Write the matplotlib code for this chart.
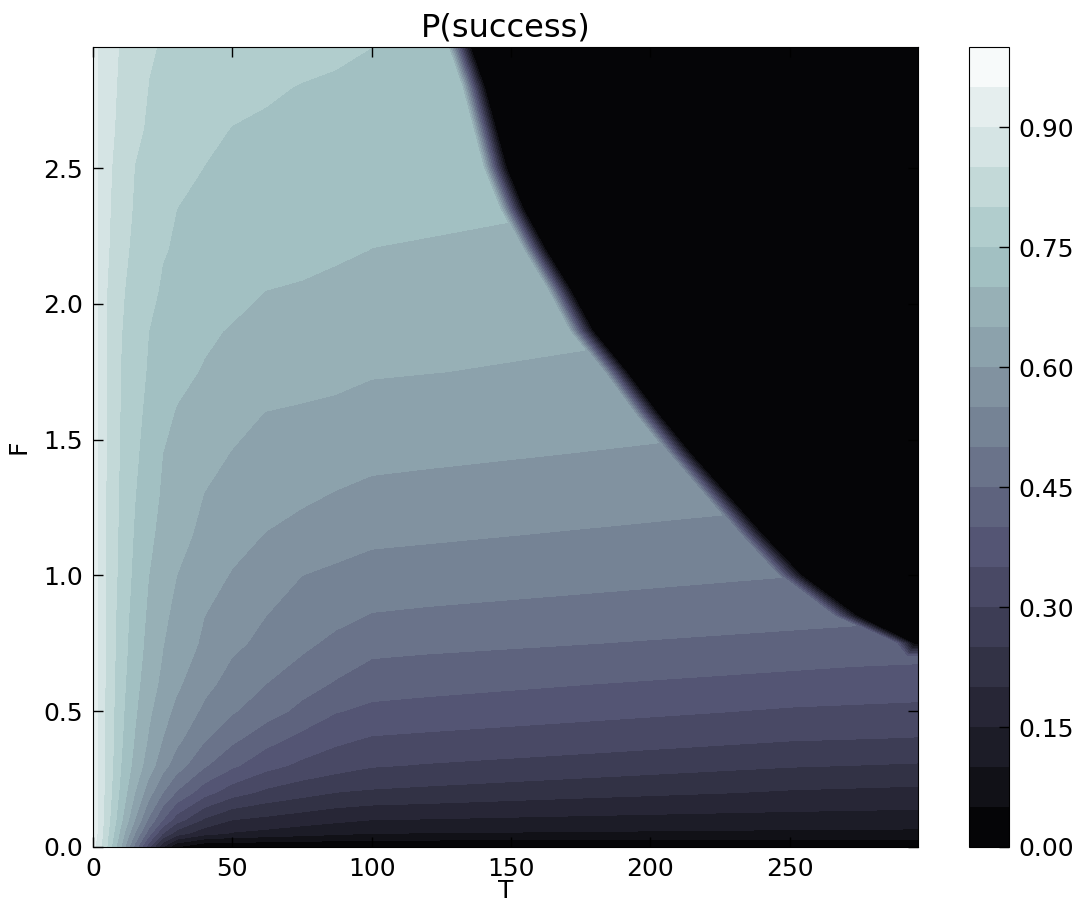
import numpy as np
import matplotlib
matplotlib.use('Agg')
import matplotlib.pyplot as plt

# ---------------------------------------------------------------------------
# Datos leidos de la figura
# filas: valores de F ; columnas fijas: T en la zona de T bajo
f_vals = [0.0, 0.05, 0.1, 0.2, 0.3, 0.4, 0.5, 0.6, 0.7, 0.75, 0.85,
          1.0, 1.15, 1.3, 1.45, 1.6, 1.75, 1.9, 2.05, 2.2, 2.35,
          2.5, 2.65, 2.8, 2.945]
t_cols = [0, 2, 5, 10, 15, 20, 25, 30, 40, 50, 62, 75, 87, 100, 120]
# dos nodos extra por fila: donde hay zona negra, t_a = ultimo T con valor
# y t_b = primer T a cero; debajo de ella son solo nodos intermedios
t_a = [250, 250, 250, 250, 250, 250, 250, 250, 285, 288, 266,
       246, 232, 219, 206, 194, 183, 171, 163, 154, 146,
       140, 136, 132, 127]
t_b = [280, 280, 280, 280, 280, 280, 280, 280, 292, 295, 275,
       255, 241, 228, 215, 203, 192, 180, 172, 163, 155,
       149, 145, 141, 136]
t_end = 296

# P(success) en t_cols + t_a + t_b + t_end, una fila por F
p_grid = [
    [0.92, 0.871, 0.80, 0.65, 0.483, 0.317, 0.15, 0.05, 0.0, 0.0, 0.0, 0.0, 0.0, 0.0, 0.0, 0.0, 0.0, 0.0],
    [0.94, 0.885, 0.813, 0.683, 0.55, 0.425, 0.30, 0.225, 0.169, 0.145, 0.134, 0.121, 0.110, 0.10, 0.098, 0.0886, 0.0873, 0.0866],
    [0.94, 0.886, 0.823, 0.711, 0.60, 0.492, 0.40, 0.325, 0.242, 0.20, 0.187, 0.173, 0.161, 0.15, 0.147, 0.1306, 0.1284, 0.1273],
    [0.94, 0.887, 0.831, 0.736, 0.65, 0.571, 0.50, 0.445, 0.369, 0.321, 0.288, 0.267, 0.249, 0.242, 0.235, 0.194, 0.1887, 0.1858],
    [0.94, 0.888, 0.836, 0.75, 0.683, 0.625, 0.57, 0.525, 0.456, 0.409, 0.367, 0.339, 0.322, 0.304, 0.2965, 0.2538, 0.2482, 0.2451],
    [0.94, 0.888, 0.838, 0.758, 0.697, 0.645, 0.60, 0.564, 0.506, 0.4625, 0.42, 0.386, 0.362, 0.346, 0.34, 0.3049, 0.3003, 0.2978],
    [0.94, 0.888, 0.838, 0.7625, 0.707, 0.659, 0.62, 0.587, 0.54, 0.505, 0.472, 0.436, 0.403, 0.388, 0.3815, 0.3446, 0.3398, 0.3372],
    [0.94, 0.888, 0.839, 0.7675, 0.715, 0.673, 0.638, 0.609, 0.563, 0.532, 0.50, 0.470, 0.445, 0.422, 0.416, 0.3809, 0.3763, 0.3738],
    [0.94, 0.888, 0.84, 0.772, 0.722, 0.682, 0.648, 0.624, 0.583, 0.55, 0.525, 0.498, 0.475, 0.452, 0.4465, 0.4104, 0.4094, 0.4089],
    [0.94, 0.888, 0.84, 0.773, 0.725, 0.685, 0.652, 0.63, 0.591, 0.562, 0.535, 0.51, 0.489, 0.468, 0.4627, 0.428, 0.0, 0.0],
    [0.94, 0.888, 0.841, 0.777, 0.73, 0.691, 0.66, 0.637, 0.60, 0.577, 0.55, 0.53, 0.512, 0.497, 0.492, 0.462, 0.0, 0.0],
    [0.94, 0.888, 0.843, 0.784, 0.738, 0.70, 0.675, 0.65, 0.622, 0.596, 0.574, 0.55, 0.54, 0.53, 0.5257, 0.502, 0.0, 0.0],
    [0.94, 0.888, 0.844, 0.788, 0.745, 0.71, 0.686, 0.666, 0.638, 0.619, 0.598, 0.585, 0.573, 0.561, 0.557, 0.534, 0.0, 0.0],
    [0.94, 0.889, 0.845, 0.792, 0.752, 0.719, 0.694, 0.678, 0.649, 0.637, 0.623, 0.608, 0.598, 0.59, 0.586, 0.567, 0.0, 0.0],
    [0.94, 0.889, 0.846, 0.794, 0.759, 0.728, 0.70, 0.689, 0.666, 0.648, 0.639, 0.63, 0.621, 0.612, 0.6086, 0.594, 0.0, 0.0],
    [0.94, 0.889, 0.847, 0.797, 0.765, 0.737, 0.714, 0.697, 0.681, 0.666, 0.649, 0.643, 0.638, 0.632, 0.629, 0.6175, 0.0, 0.0],
    [0.94, 0.889, 0.848, 0.799, 0.77, 0.745, 0.729, 0.713, 0.696, 0.689, 0.682, 0.673, 0.665, 0.654, 0.651, 0.642, 0.0, 0.0],
    [0.935, 0.889, 0.849, 0.802, 0.776, 0.75, 0.74, 0.729, 0.708, 0.696, 0.689, 0.682, 0.675, 0.667, 0.664, 0.657, 0.0, 0.0],
    [0.935, 0.889, 0.85, 0.807, 0.781, 0.759, 0.746, 0.74, 0.7275, 0.715, 0.70, 0.695, 0.689, 0.684, 0.681, 0.675, 0.0, 0.0],
    [0.93, 0.892, 0.856, 0.815, 0.789, 0.77, 0.752, 0.747, 0.74, 0.733, 0.725, 0.715, 0.707, 0.6995, 0.697, 0.692, 0.0, 0.0],
    [0.93, 0.893, 0.859, 0.822, 0.795, 0.78, 0.765, 0.75, 0.744, 0.739, 0.732, 0.724, 0.717, 0.71, 0.707, 0.704, 0.0, 0.0],
    [0.93, 0.893, 0.861, 0.829, 0.799, 0.788, 0.777, 0.766, 0.749, 0.744, 0.738, 0.732, 0.726, 0.72, 0.717, 0.7145, 0.0, 0.0],
    [0.93, 0.894, 0.869, 0.835, 0.809, 0.795, 0.786, 0.778, 0.762, 0.749, 0.744, 0.739, 0.734, 0.73, 0.727, 0.725, 0.0, 0.0],
    [0.93, 0.894, 0.872, 0.84, 0.818, 0.799, 0.794, 0.789, 0.779, 0.768, 0.756, 0.748, 0.744, 0.74, 0.737, 0.7356, 0.0, 0.0],
    [0.93, 0.895, 0.875, 0.845, 0.825, 0.804, 0.797, 0.794, 0.788, 0.782, 0.774, 0.766, 0.758, 0.75, 0.747, 0.746, 0.0, 0.0],
]

cbar_ticks = [0.0, 0.15, 0.30, 0.45, 0.60, 0.75, 0.90]

# ---------------------------------------------------------------------------
# Malla curvilinea (cada fila tiene sus propios nodos en T)
n_rows = len(f_vals)
T = np.column_stack([np.tile(t_cols, (n_rows, 1)), t_a, t_b,
                     np.full(n_rows, t_end)]).astype(float)
F = np.repeat(np.array(f_vals)[:, None], T.shape[1], axis=1)
P = np.array(p_grid)

fig = plt.figure(figsize=(10.81, 9.07), dpi=100)
ax = fig.add_axes([0.086, 0.0662, 0.763, 0.8816])
cax = fig.add_axes([0.896, 0.0662, 0.0374, 0.8816])

cs = ax.contourf(T, F, P, levels=np.linspace(0, 1, 21), cmap='bone')
ax.set_xlim(0, t_end)
ax.set_ylim(0, f_vals[-1])

ax.set_title('P(success)', fontsize=23, pad=8)
ax.set_xlabel('T', fontsize=18, labelpad=-1)
ax.set_ylabel('F', fontsize=18, labelpad=9)
ax.tick_params(direction='in', top=True, right=True, length=7, width=1,
               labelsize=18, pad=7)

cb = fig.colorbar(cs, cax=cax, ticks=cbar_ticks, format='%.2f')
cb.ax.tick_params(direction='in', length=7, width=1, labelsize=18, pad=7)

fig.savefig('out.png', dpi=100)
